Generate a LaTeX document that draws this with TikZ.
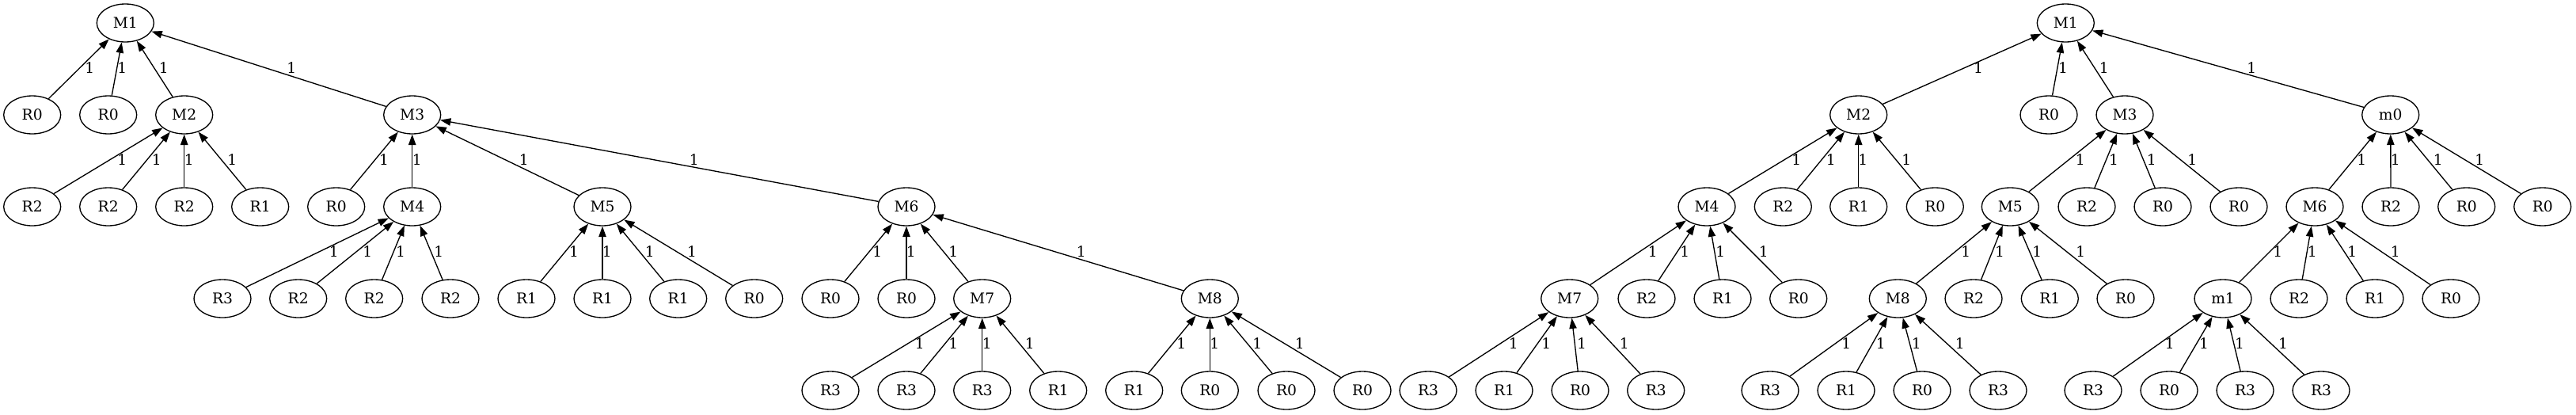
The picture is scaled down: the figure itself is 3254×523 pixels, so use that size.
\documentclass[tikz,border=0pt]{standalone}
\usepackage{fontspec}
\setmainfont{DejaVu Serif}
\usetikzlibrary{shapes.geometric,arrows.meta}
\tikzset{
  nd/.style={draw, ellipse, line width=1bp, minimum width=54bp, minimum height=36bp, inner sep=0pt, font=\fontsize{14bp}{16bp}\selectfont},
  lbl/.style={inner sep=0pt, font=\fontsize{14bp}{16bp}\selectfont},
  arr/.style={line width=1bp, -{Triangle[length=10bp,width=7bp]}}
}
\newcommand\edgeL[4]{\draw[arr] (#1) -- (#2); \node[lbl] (L#1) at (#3,#4) {1};}
\begin{document}
\begin{tikzpicture}[x=0.75bp,y=-0.75bp]
\useasboundingbox (0,0) rectangle (3254,523);
% ---------- left tree ----------
\node[nd] (a0) at (158.3,29) {M1};
\node[nd] (a1) at (40.7,145) {R0};
\node[nd] (a2) at (136.7,145) {R0};
\node[nd] (a3) at (232.7,145) {M2};
\node[nd] (a4) at (520.7,145) {M3};
\node[nd] (a5) at (40.7,261) {R2};
\node[nd] (a6) at (136.7,261) {R2};
\node[nd] (a7) at (232.7,261) {R2};
\node[nd] (a8) at (328.7,261) {R1};
\node[nd] (a9) at (424.7,261) {R0};
\node[nd] (a10) at (520.7,261) {M4};
\node[nd] (a11) at (761,261) {M5};
\node[nd] (a12) at (1145,261) {M6};
\node[nd] (a13) at (281,377) {R3};
\node[nd] (a14) at (376.7,377) {R2};
\node[nd] (a15) at (472.7,377) {R2};
\node[nd] (a16) at (569,377) {R2};
\node[nd] (a17) at (665,377) {R1};
\node[nd] (a18) at (761,377) {R1};
\node[nd] (a19) at (856.7,377) {R1};
\node[nd] (a20) at (952.7,377) {R0};
\node[nd] (a21) at (1049,377) {R0};
\node[nd] (a22) at (1145,377) {R0};
\node[nd] (a23) at (1240.7,377) {M7};
\node[nd] (a24) at (1528.3,377) {M8};
\node[nd] (a25) at (1049,493) {R3};
\node[nd] (a26) at (1145,493) {R3};
\node[nd] (a27) at (1240.7,493) {R3};
\node[nd] (a28) at (1336.7,493) {R1};
\node[nd] (a29) at (1432.7,493) {R1};
\node[nd] (a30) at (1528.3,493) {R0};
\node[nd] (a31) at (1625,493) {R0};
\node[nd] (a32) at (1721,493) {R0};
\edgeL{a1}{a0}{113.3}{86}
\edgeL{a2}{a0}{154.3}{86}
\edgeL{a3}{a0}{206.7}{86}
\edgeL{a4}{a0}{368.3}{86}
\edgeL{a5}{a3}{154.3}{202}
\edgeL{a6}{a3}{197.7}{202}
\edgeL{a7}{a3}{238.7}{202}
\edgeL{a8}{a3}{293.3}{202}
\edgeL{a9}{a4}{485}{202}
\edgeL{a10}{a4}{526.7}{202}
\edgeL{a11}{a4}{661.7}{202}
\edgeL{a12}{a4}{876.7}{202}
\edgeL{a13}{a10}{421.7}{318}
\edgeL{a14}{a10}{464.3}{318}
\edgeL{a15}{a10}{506}{318}
\edgeL{a16}{a10}{554.3}{318}
\edgeL{a17}{a11}{725}{318}
\edgeL{a18}{a11}{766.7}{318}
\edgeL{a19}{a11}{820.7}{318}
\edgeL{a20}{a11}{874}{318}
\edgeL{a21}{a12}{1108.3}{318}
\edgeL{a22}{a12}{1150.7}{318}
\edgeL{a23}{a12}{1204.3}{318}
\edgeL{a24}{a12}{1365.7}{318}
\edgeL{a25}{a23}{1161.7}{434}
\edgeL{a26}{a23}{1204.3}{434}
\edgeL{a27}{a23}{1246.7}{434}
\edgeL{a28}{a23}{1300.7}{434}
\edgeL{a29}{a24}{1492.3}{434}
\edgeL{a30}{a24}{1534.3}{434}
\edgeL{a31}{a24}{1588.3}{434}
\edgeL{a32}{a24}{1641.7}{434}
% ---------- right tree ----------
\node[nd] (b0) at (2609.3,29) {M1};
\node[nd] (b1) at (2347.7,145) {M2};
\node[nd] (b2) at (2588,145) {R0};
\node[nd] (b3) at (2684,145) {M3};
\node[nd] (b4) at (3019.7,145) {m0};
\node[nd] (b5) at (2156,261) {M4};
\node[nd] (b6) at (2252.3,261) {R2};
\node[nd] (b7) at (2347.7,261) {R1};
\node[nd] (b8) at (2444.3,261) {R0};
\node[nd] (b9) at (2539.3,261) {M5};
\node[nd] (b10) at (2636,261) {R2};
\node[nd] (b11) at (2732,261) {R0};
\node[nd] (b12) at (2828,261) {R0};
\node[nd] (b13) at (2924,261) {M6};
\node[nd] (b14) at (3020,261) {R2};
\node[nd] (b15) at (3115.7,261) {R0};
\node[nd] (b16) at (3211.7,261) {R0};
\node[nd] (b17) at (1982.7,377) {M7};
\node[nd] (b18) at (2080,377) {R2};
\node[nd] (b19) at (2176,377) {R1};
\node[nd] (b20) at (2271.7,377) {R0};
\node[nd] (b21) at (2397.3,377) {M8};
\node[nd] (b22) at (2493,377) {R2};
\node[nd] (b23) at (2589.3,377) {R1};
\node[nd] (b24) at (2685,377) {R0};
\node[nd] (b25) at (2808,377) {m1};
\node[nd] (b26) at (2904,377) {R2};
\node[nd] (b27) at (3000,377) {R1};
\node[nd] (b28) at (3096,377) {R0};
\node[nd] (b29) at (1804,493) {R3};
\node[nd] (b30) at (1900,493) {R1};
\node[nd] (b31) at (1996,493) {R0};
\node[nd] (b32) at (2091.7,493) {R3};
\node[nd] (b33) at (2236,493) {R3};
\node[nd] (b34) at (2332,493) {R1};
\node[nd] (b35) at (2428,493) {R0};
\node[nd] (b36) at (2524,493) {R3};
\node[nd] (b37) at (2644,493) {R3};
\node[nd] (b38) at (2740,493) {R0};
\node[nd] (b39) at (2836,493) {R3};
\node[nd] (b40) at (2932,493) {R3};
\edgeL{b1}{b0}{2499}{86}
\edgeL{b2}{b0}{2606}{86}
\edgeL{b3}{b0}{2657.7}{86}
\edgeL{b4}{b0}{2844.3}{86}
\edgeL{b5}{b1}{2269.3}{202}
\edgeL{b6}{b1}{2312.7}{202}
\edgeL{b7}{b1}{2353.3}{202}
\edgeL{b8}{b1}{2408.3}{202}
\edgeL{b9}{b3}{2627.7}{202}
\edgeL{b10}{b3}{2670}{202}
\edgeL{b11}{b3}{2717.7}{202}
\edgeL{b12}{b3}{2769.3}{202}
\edgeL{b13}{b4}{2983.3}{202}
\edgeL{b14}{b4}{3025.7}{202}
\edgeL{b15}{b4}{3079.7}{202}
\edgeL{b16}{b4}{3132.3}{202}
\edgeL{b17}{b5}{2087.7}{318}
\edgeL{b18}{b5}{2128.3}{318}
\edgeL{b19}{b5}{2173.3}{318}
\edgeL{b20}{b5}{2227.7}{318}
\edgeL{b21}{b9}{2483.3}{318}
\edgeL{b22}{b9}{2526}{318}
\edgeL{b23}{b9}{2573.3}{318}
\edgeL{b24}{b9}{2628.3}{318}
\edgeL{b25}{b13}{2877.3}{318}
\edgeL{b26}{b13}{2920.7}{318}
\edgeL{b27}{b13}{2971.3}{318}
\edgeL{b28}{b13}{3025.7}{318}
\edgeL{b29}{b17}{1911.7}{434}
\edgeL{b30}{b17}{1953.3}{434}
\edgeL{b31}{b17}{1998}{434}
\edgeL{b32}{b17}{2051.7}{434}
\edgeL{b33}{b21}{2332.3}{434}
\edgeL{b34}{b21}{2375.7}{434}
\edgeL{b35}{b21}{2420.7}{434}
\edgeL{b36}{b21}{2475.7}{434}
\edgeL{b37}{b25}{2740.7}{434}
\edgeL{b38}{b25}{2784}{434}
\edgeL{b39}{b25}{2829}{434}
\edgeL{b40}{b25}{2884}{434}
\end{tikzpicture}
\end{document}
